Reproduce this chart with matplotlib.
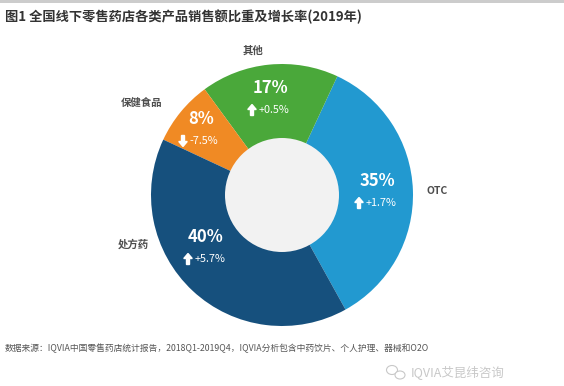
import matplotlib
matplotlib.use("Agg")
import matplotlib.pyplot as plt
from matplotlib.patches import Circle, Rectangle, Ellipse

plt.rcParams['font.family'] = ['Noto Sans CJK SC', 'DejaVu Sans']

# data
categories = ['OTC', '其他', '保健食品', '处方药']
shares = [35, 17, 8, 40]
growth = [1.7, 0.5, -7.5, 5.7]
colors = ['#2299d0', '#4aa83a', '#f08a24', '#16507d']

# layout (pixels from top-left)
W, H = 564, 386
center_px = (282, 195)
radius = 131
hole = 57
pct_pos = [(377, 181), (270, 88), (201, 119), (206, 237)]
name_pos = [(437, 191), (253, 51), (142, 103), (133, 244)]


def py(y):
    return H - y


def main():
    fig = plt.figure(figsize=(W / 100, H / 100), dpi=100)
    ax = fig.add_axes([0, 0, 1, 1])

    cx, cy = center_px[0], py(center_px[1])
    ax.pie(shares, colors=colors, startangle=-61, counterclock=True,
           center=(cx, cy), radius=radius,
           wedgeprops=dict(linewidth=0))
    ax.add_patch(Circle((cx, cy), hole, facecolor='#f2f2f2', edgecolor='none', zorder=3))

    ax.set_xlim(0, W)
    ax.set_ylim(0, H)
    ax.set_aspect('equal')
    ax.axis('off')

    # grey strip at top
    ax.add_patch(Rectangle((0, H - 3), W, 3, facecolor='#cccccc', edgecolor='none'))

    ax.text(5, py(17), '图1 全国线下零售药店各类产品销售额比重及增长率(2019年)',
            fontsize=9.5, fontweight='bold', color='#333333', ha='left', va='center')

    for name, s, g, (px, pyy), (nx, ny) in zip(categories, shares, growth, pct_pos, name_pos):
        ax.text(px, py(pyy), f'{s}%', fontsize=12, fontweight='bold', color='white',
                ha='center', va='center', zorder=5)
        ly = py(pyy + 22)
        ax_x = px - 18
        if g >= 0:
            ax.arrow(ax_x, ly - 5.5, 0, 6, width=3, head_width=8.5, head_length=5,
                     length_includes_head=False, color='white', zorder=5)
            txt = f'+{g}%'
        else:
            ax.arrow(ax_x, ly + 5.5, 0, -6, width=3, head_width=8.5, head_length=5,
                     length_includes_head=False, color='white', zorder=5)
            txt = f'{g}%'
        ax.text(px - 11, ly, txt, fontsize=7.8, color='white', ha='left', va='center', zorder=5)
        ax.text(nx, py(ny), name, fontsize=7.5, fontweight='bold', color='#4d4d4d',
                ha='center', va='center')

    ax.text(5, py(348), '数据来源：IQVIA中国零售药店统计报告，2018Q1-2019Q4，IQVIA分析包含中药饮片、个人护理、器械和O2O',
            fontsize=6.3, color='#555555', ha='left', va='center')

    # watermark with a small chat-bubble icon
    ax.add_patch(Ellipse((392, py(370)), 11, 9, facecolor='none', edgecolor='#c8c8c8', lw=0.8))
    ax.add_patch(Ellipse((400, py(375)), 10, 8, facecolor='white', edgecolor='#c8c8c8', lw=0.8))
    ax.text(505, py(372), 'IQVIA艾昆纬咨询', fontsize=9, color='#c8c8c8', ha='right', va='center')

    fig.savefig('out.png', dpi=100)


if __name__ == "__main__":
    main()
